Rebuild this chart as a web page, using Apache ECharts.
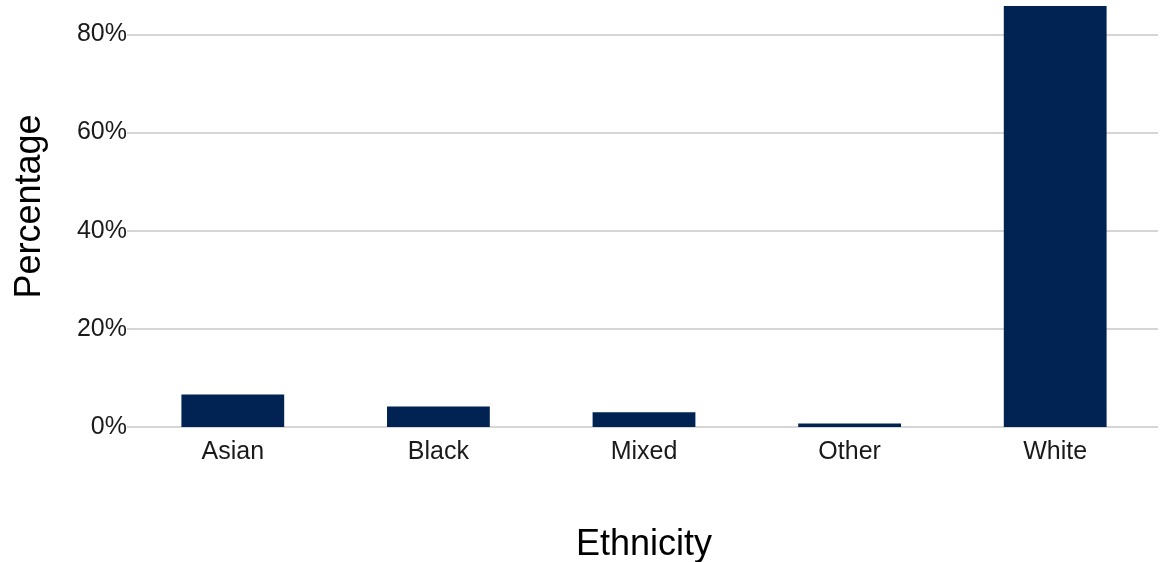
<!DOCTYPE html>
<html>
<head>
<meta charset="utf-8">
<script src="https://cdn.jsdelivr.net/npm/echarts@6/dist/echarts.min.js"></script>
<style>
html,body{margin:0;padding:0;background:#fff;}
#chart{width:1161px;height:562px;}
</style>
</head>
<body>
<div id="chart"></div>
<script>
const categories = ['Asian', 'Black', 'Mixed', 'Other', 'White'];
const percentages = [6.6, 4.2, 3.0, 0.7, 85.8];
const yTicks = [0, 20, 40, 60, 80];

const chart = echarts.init(document.getElementById('chart'), null, {renderer: 'canvas'});
const font = 'Liberation Sans, Arial, sans-serif';
chart.setOption({
  animation: false,
  backgroundColor: '#ffffff',
  grid: {left: 130, right: 3, top: 0, bottom: 135, containLabel: false, outerBoundsMode: 'none'},
  xAxis: {
    type: 'category',
    data: categories,
    name: 'Ethnicity',
    nameLocation: 'middle',
    nameGap: 100,
    nameTextStyle: {fontFamily: font, fontSize: 36, color: '#000'},
    axisLine: {show: false},
    axisTick: {show: false},
    axisLabel: {fontFamily: font, fontSize: 25, color: '#1a1a1a', margin: 13},
    boundaryGap: true
  },
  yAxis: {
    type: 'value',
    min: 0,
    max: 87,
    interval: 20,
    name: 'Percentage',
    nameLocation: 'middle',
    nameGap: 82,
    nameTextStyle: {fontFamily: font, fontSize: 36, color: '#000', padding: [0, 0, 0, 14]},
    axisLine: {show: false},
    axisTick: {show: true, length: 3, lineStyle: {color: '#d3d3d3', width: 2}},
    axisLabel: {
      fontFamily: font, fontSize: 25, color: '#1a1a1a', margin: 3,
      padding: [8, 0, 0, 0],
      showMaxLabel: false,
      formatter: function (v) { return yTicks.indexOf(v) >= 0 ? v + '%' : ''; }
    },
    splitLine: {show: true, lineStyle: {color: ['#d6d6d6','#d6d6d6','#d6d6d6','#d6d6d6','#d6d6d6','rgba(0,0,0,0)'], width: 2}}
  },
  series: [{
    type: 'bar',
    data: percentages,
    barWidth: '50%',
    itemStyle: {color: '#002353'}
  }]
});
</script>
</body>
</html>
